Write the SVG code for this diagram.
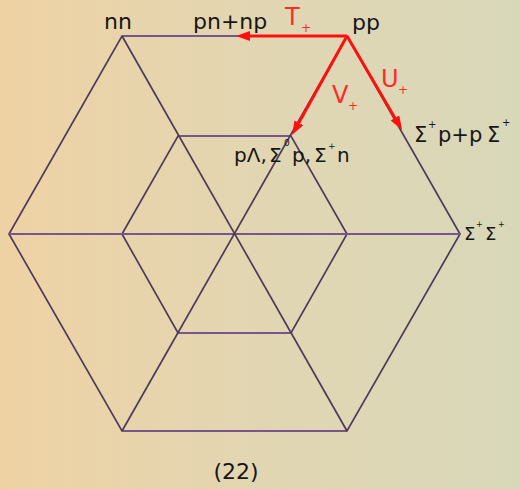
<svg xmlns="http://www.w3.org/2000/svg" width="520" height="489" viewBox="0 0 520 489">
<defs>
<linearGradient id="bg" x1="0" y1="0" x2="1" y2="0">
<stop offset="0" stop-color="#efd2a4"/>
<stop offset="0.5" stop-color="#e2d6b2"/>
<stop offset="1" stop-color="#d8d8b9"/>
</linearGradient>
<marker id="ah" markerUnits="userSpaceOnUse" markerWidth="16" markerHeight="12" refX="4" refY="5" orient="auto">
<path d="M0,0 L14,5 L0,10 z" fill="#ff1010"/>
</marker>
<style>
.g{stroke:#4e3a5a;stroke-width:1.7;fill:none}
.h{stroke:#76568c;stroke-width:1.8;fill:none}
.r{stroke:#ff1010;stroke-width:3;fill:none;marker-end:url(#ah)}
.t{font-family:"DejaVu Sans","Liberation Sans",sans-serif;fill:#161616}
.rt{font-family:"DejaVu Sans","Liberation Sans",sans-serif;fill:#ff2a2a}
</style>
</defs>
<rect x="0" y="0" width="520" height="489" fill="url(#bg)"/>
<g id="grid">
<polygon class="g" points="122,36 347,36 460,234 347,431 122,431 9,234"/>
<polygon class="g" points="178,136 291,136 347,234 291,333 178,333 122,234"/>
<line class="h" x1="122" y1="36" x2="347" y2="36"/>
<line class="h" x1="178" y1="136" x2="291" y2="136"/>
<line class="h" x1="178" y1="333" x2="291" y2="333"/>
<line class="h" x1="122" y1="431" x2="347" y2="431"/>
<line class="h" x1="9" y1="234" x2="460" y2="234"/>
<line class="g" x1="122" y1="36" x2="347" y2="431"/>
<line class="g" x1="347" y1="36" x2="122" y2="431"/>
</g>
<g id="connectors">
<line class="r" x1="347" y1="36" x2="246" y2="36"/>
<line class="r" x1="347" y1="36" x2="397" y2="121.4"/>
<line class="r" x1="347" y1="36" x2="296.9" y2="126.3"/>
</g>
<g id="node-nn"><text class="t" x="104" y="29" font-size="22">nn</text></g>
<g id="node-pn"><text class="t" x="193" y="29" font-size="22">pn+np</text></g>
<g id="node-pp"><text class="t" x="352" y="30" font-size="22">pp</text></g>
<g id="node-sp">
<text class="t" y="142" font-size="21"><tspan x="414">Σ</tspan><tspan x="428" y="128" font-size="10">+</tspan><tspan x="438" y="142">p+p</tspan><tspan x="487" y="142">Σ</tspan><tspan x="502" y="126" font-size="10">+</tspan></text>
</g>
<g id="node-pl">
<text class="t" y="162" font-size="20"><tspan x="234">pΛ,</tspan><tspan x="269">Σ</tspan><tspan x="284" y="146" font-size="9">0</tspan><tspan x="292" y="162">p,</tspan><tspan x="314" y="162">Σ</tspan><tspan x="328" y="149" font-size="9">+</tspan><tspan x="337" y="162">n</tspan></text>
</g>
<g id="node-ss">
<text class="t" y="240" font-size="18"><tspan x="464">Σ</tspan><tspan x="476" y="227" font-size="8">+</tspan><tspan x="485" y="240">Σ</tspan><tspan x="498" y="227" font-size="8">+</tspan></text>
</g>
<g id="labels">
<text class="rt" x="285" y="25" font-size="24">T</text>
<text class="rt" x="301" y="31.6" font-size="12">+</text>
<text class="rt" x="381" y="87" font-size="24">U</text>
<text class="rt" x="398" y="93.6" font-size="12">+</text>
<text class="rt" x="332" y="103" font-size="24">V</text>
<text class="rt" x="348" y="109.6" font-size="12">+</text>
<text class="t" x="236" y="479" font-size="22" text-anchor="middle">(22)</text>
</g>
</svg>
